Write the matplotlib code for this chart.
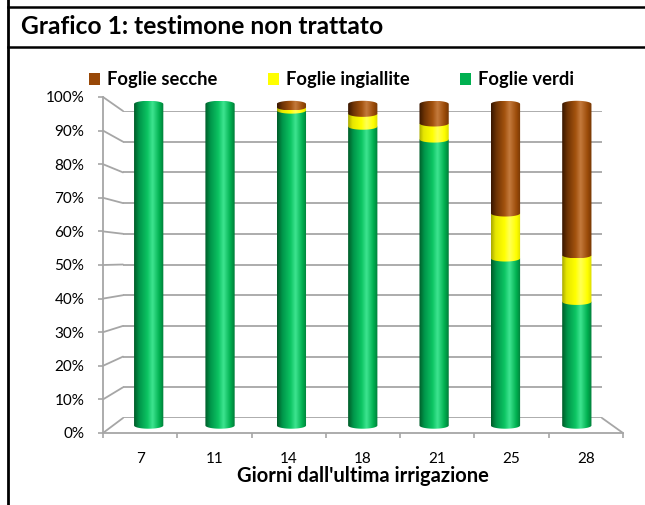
import numpy as np
import matplotlib
matplotlib.use("Agg")
from matplotlib import pyplot as plt
from matplotlib.colors import LinearSegmentedColormap
from matplotlib.patches import Patch, Polygon, ConnectionPatch
from matplotlib.lines import Line2D

plt.rcParams['font.family'] = ['Lato', 'DejaVu Sans']

# data (percent of leaves)
days = ['7', '11', '14', '18', '21', '25', '28']
verdi = [100, 100, 98, 93, 89, 52, 38.5]
ingiallite = [0, 0, 1, 4, 5, 14, 14.5]
secche = [0, 0, 1, 3, 6, 34, 47]
series_names = ['Foglie secche', 'Foglie ingiallite', 'Foglie verdi']
legend_colors = ['#984807', '#FFFF00', '#00B050']
percent_ticks = list(range(0, 101, 10))

W, H = 645, 505
GRID = '#a6a6a6'

green_cm = LinearSegmentedColormap.from_list('g', [
    (0.0, '#005a28'), (0.18, '#00964a'), (0.45, '#0cc462'),
    (0.62, '#3ee490'), (0.85, '#00b050'), (1.0, '#007a38')])
yellow_cm = LinearSegmentedColormap.from_list('y', [
    (0.0, '#a8a800'), (0.15, '#e6e600'), (0.45, '#ffff00'),
    (0.62, '#ffff55'), (0.85, '#ffff00'), (1.0, '#dada00')])
brown_cm = LinearSegmentedColormap.from_list('b', [
    (0.0, '#361600'), (0.18, '#6e3304'), (0.45, '#a2520e'),
    (0.62, '#c47a3c'), (0.85, '#9c4c0a'), (1.0, '#743604')])


def place(x0, x1, y0, y1):
    # pixel box -> figure fraction [left, bottom, width, height]
    return [x0 / W, 1 - y0 / H, (x1 - x0) / W, (y0 - y1) / H]


fig = plt.figure(figsize=(W / 100, H / 100), dpi=100)

# back wall (gridlines), mid plane (cylinders), front plane (axes + labels)
ax_back = fig.add_axes(place(123, 602, 418, 111), zorder=0)
Y0, Y100 = 425.5, 104.0
k = (Y0 - Y100) / 100
ylo, yhi = -5, 105
ax_mid = fig.add_axes(place(113, 612.5, Y0 - ylo * k, Y0 - yhi * k), zorder=1)
ax_front = fig.add_axes(place(103, 623, 433, 97), zorder=2)

for a in (ax_back, ax_mid, ax_front):
    a.set_facecolor('none')
    a.set_xlim(-0.5, len(days) - 0.5)

ax_back.set_ylim(0, 100)
ax_back.set_yticks(percent_ticks)
ax_back.set_xticks([])
ax_back.tick_params(left=False, labelleft=False)
ax_back.yaxis.grid(True, color=GRID, linewidth=1.3)
for s in ax_back.spines.values():
    s.set_visible(False)

ax_mid.set_ylim(ylo, yhi)
ax_mid.axis('off')

bar_w = 0.41
cap = 1.0  # half height of the cylinder ellipse, in data units
grad = np.linspace(0, 1, 256).reshape(1, -1)
t_low = np.linspace(np.pi, 2 * np.pi, 40)
t_up = np.linspace(0, np.pi, 40)

stack = [(verdi, green_cm), (ingiallite, yellow_cm), (secche, brown_cm)]
bottoms = np.zeros(len(days))
tops = np.array(verdi) + np.array(ingiallite) + np.array(secche)
for vals, cm in stack:
    bars = ax_mid.bar(range(len(days)), vals, bar_w, bottom=bottoms,
                      color='none', edgecolor='none')
    for i, b in enumerate(bars):
        h = b.get_height()
        if h <= 0:
            continue
        x0, y0, w = b.get_x(), b.get_y(), b.get_width()
        xc = x0 + w / 2
        y1 = y0 + h
        pts = [(xc + w / 2 * np.cos(t), y0 + cap * np.sin(t)) for t in t_low]
        if np.isclose(y1, tops[i]):
            pts += [(xc + w / 2 * np.cos(t), y1 + cap * np.sin(t)) for t in t_up]
        else:
            pts += [(x0 + w, y1), (x0, y1)]
        clip = Polygon(pts, closed=True, facecolor='none', edgecolor='none')
        ax_mid.add_patch(clip)
        img = ax_mid.imshow(grad, cmap=cm, aspect='auto', interpolation='bilinear',
                            extent=[x0, x0 + w, y0 - cap, y1 + cap], zorder=2)
        img.set_clip_path(clip)
    bottoms = bottoms + np.array(vals)
ax_mid.set_xlim(-0.5, len(days) - 0.5)
ax_mid.set_ylim(ylo, yhi)

# front axes
ax_front.set_ylim(0, 100)
for side in ('top', 'right'):
    ax_front.spines[side].set_visible(False)
for side in ('left', 'bottom'):
    ax_front.spines[side].set_color(GRID)
    ax_front.spines[side].set_linewidth(1.3)
ax_front.set_yticks(percent_ticks)
ax_front.set_yticklabels([f'{v}%' for v in percent_ticks])
ax_front.set_xticks(range(len(days)))
ax_front.set_xticklabels(days)
ax_front.set_xticks(np.arange(-0.5, len(days), 1), minor=True)
ax_front.tick_params(axis='y', color=GRID, length=3.5, width=1.2, labelsize=11, pad=10)
ax_front.tick_params(axis='x', which='major', length=0, labelsize=11, pad=14)
ax_front.tick_params(axis='x', which='minor', color=GRID, length=3.5, width=1.2)
ax_front.set_xlabel("Giorni dall'ultima irrigazione", fontsize=14.5, fontweight='bold',
                    labelpad=0)

# side wall and floor edges joining front and back planes
for v in percent_ticks:
    fig.add_artist(ConnectionPatch((-0.5, v), (-0.5, v), 'data', 'data',
                                   axesA=ax_front, axesB=ax_back,
                                   color=GRID, linewidth=1.3))
fig.add_artist(ConnectionPatch((len(days) - 0.5, 0), (len(days) - 0.5, 0), 'data', 'data',
                               axesA=ax_front, axesB=ax_back,
                               color=GRID, linewidth=1.3))

# legend
handles = [Patch(facecolor=c, edgecolor='none') for c in legend_colors]
fig.legend(handles, series_names, loc='center left', bbox_to_anchor=(80 / W, 1 - 80 / H),
           ncol=3, frameon=False, borderpad=0, handlelength=0.6, handleheight=0.6,
           handletextpad=0.38, columnspacing=2.75,
           prop={'weight': 'bold', 'size': 13.2})

# title box
fig.text(21 / W, 1 - 27 / H, 'Grafico 1: testimone non trattato', fontsize=17.7,
         fontweight='bold', ha='left', va='center')
fig.add_artist(Line2D([8 / W, 8 / W], [0, 1], color='black', linewidth=2))
fig.add_artist(Line2D([8 / W, 1], [1 - 7 / H, 1 - 7 / H], color='black', linewidth=1.8))
fig.add_artist(Line2D([8 / W, 1], [1 - 47 / H, 1 - 47 / H], color='black', linewidth=1.8))

fig.savefig('out.png', dpi=100)
